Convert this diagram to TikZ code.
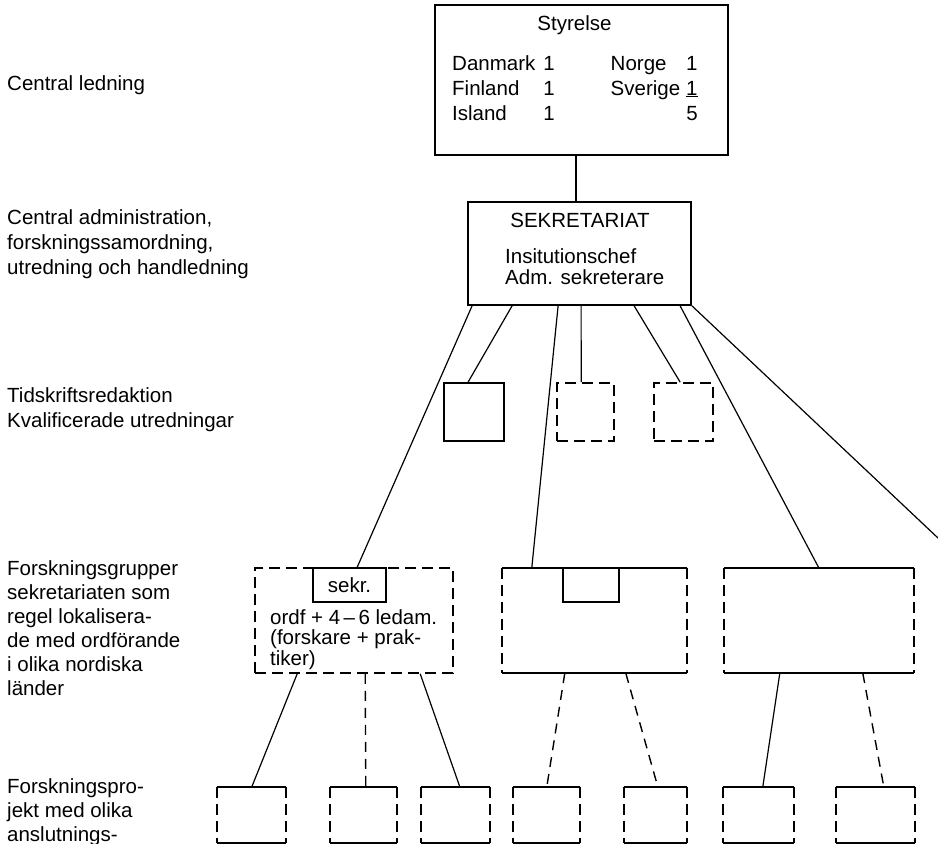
\documentclass[tikz,border=0pt]{standalone}
\usepackage{fontspec}
\setmainfont{Liberation Sans}
\usetikzlibrary{positioning}

\begin{document}
\begin{tikzpicture}[
    x=1pt, y=-1pt,
    every node/.style={font=\fontsize{20.5}{25}\selectfont, inner sep=0pt},
    orgbox/.style={rectangle, draw, line width=1.8pt},
    sideline/.style={line width=1.6pt, dash pattern=on 11pt off 6pt},
    dashbox/.style={rectangle, draw, sideline},
    openbox/.style={rectangle},
    link/.style={line width=1.2pt},
    dashlink/.style={line width=1.4pt, dash pattern=on 10pt off 7pt},
    sidelabel/.style={anchor=north west, align=left}
]
\useasboundingbox (0,0) rectangle (938,844);

% levels on the left
\node[sidelabel] (lvlboard) at (7,75) {Central ledning};
\node[sidelabel] (lvladmin) at (7,209) {Central administration,\\forskningssamordning,\\utredning och handledning};
\node[sidelabel] (lvljournal) at (7,387) {Tidskriftsredaktion\\Kvalificerade utredningar};
\node[sidelabel, font=\fontsize{20.5}{24}\selectfont] (lvlgroups) at (7,560) {Forskningsgrupper\\sekretariaten som\\regel lokalisera-\\de med ordf\"orande\\i olika nordiska\\l\"ander};
\node[sidelabel, font=\fontsize{20.5}{24}\selectfont] (lvlprojects) at (7,778) {Forskningspro-\\jekt med olika\\anslutnings-};

% board
\node[orgbox, minimum width=293pt, minimum height=150pt, line width=2pt] (styrelse) at (581.5,80) {};
\node[anchor=base] (styrtitle) at (574.5,30) {Styrelse};
\node[anchor=base west] (members) at (452,70) {\begin{tabular}[t]{@{}l@{\hspace{8pt}}r@{\hspace{56pt}}l@{\hspace{6pt}}r@{}}
Danmark & 1 & Norge & 1\\
Finland & 1 & Sverige & \underline{1}\\
Island & 1 & & 5
\end{tabular}};

% secretariat
\node[orgbox, minimum width=223pt, minimum height=103pt, below=45pt of styrelse, xshift=-2pt] (sek) {};
\node[anchor=base] (sektitle) at (580,227) {SEKRETARIAT};
\node[anchor=base west, font=\fontsize{20.5}{21.5}\selectfont] (sekstaff) at (505,263) {\begin{tabular}[t]{@{}l@{}}Insitutionschef\\Adm. sekreterare\end{tabular}};

% journal and temporary units
\node[orgbox, minimum width=60pt, minimum height=58pt] (tidskr) at (474,412) {};
\node[dashbox, minimum width=57pt, minimum height=58pt] (tempA) at (585.5,412) {};
\node[dashbox, minimum width=59pt, minimum height=58pt] (tempB) at (683.5,412) {};

% research groups
\node[dashbox, minimum width=198pt, minimum height=105pt] (grpA) at (354,620.5) {};
\node[orgbox, minimum width=73pt, minimum height=34pt] (grpAsekr) at (349.5,585) {sekr.};
\node[anchor=base west, font=\fontsize{20.5}{20}\selectfont] (grpAtext) at (270,624) {\begin{tabular}[t]{@{}l@{}}ordf + 4\,--\,6 ledam.\\(forskare + prak-\\tiker)\end{tabular}};
\node[openbox, minimum width=185pt, minimum height=105pt] (grpB) at (594.5,620.5) {};
\node[orgbox, minimum width=56pt, minimum height=34pt] (grpBsekr) at (591,585) {};
\node[openbox, minimum width=190pt, minimum height=105pt] (grpC) at (819,620.5) {};

% research projects
\foreach \name/\cx/\w in {p1/251.5/69, p2/363.5/67, p3/455.5/69, p4/546.5/67, p5/655.5/63, p6/758.5/71, p7/875.5/79}
    \node[openbox, minimum width=\w, minimum height=56] (\name) at (\cx,815) {};

% solid top and bottom, dashed sides
\foreach \b in {grpB,grpC,p1,p2,p3,p4,p5,p6,p7} {
    \draw[line width=1.8pt] (\b.north west) -- (\b.north east) (\b.south west) -- (\b.south east);
    \draw[sideline] (\b.north west) -- (\b.south west) (\b.north east) -- (\b.south east);
}

% links
\draw[link] ([xshift=-5.5pt]styrelse.south) -- ([xshift=-3.5pt]sek.north);
\draw[link] ([xshift=5pt]sek.south west) -- ([xshift=103pt]grpA.north west);
\draw[link] ([xshift=45pt]sek.south west) -- ([xshift=25pt]tidskr.north west);
\draw[link] ([xshift=91pt]sek.south west) -- ([xshift=30pt]grpB.north west);
\draw[link] ([xshift=114pt]sek.south west) -- ([xshift=25pt]tempA.north west);
\draw[link] ([xshift=167pt]sek.south west) -- ([xshift=27pt]tempB.north west);
\draw[link] ([xshift=213pt]sek.south west) -- ([xshift=95pt]grpC.north west);
\coordinate (offpage) at (938,538);
\draw[link] (sek.south east) -- (offpage);

\draw[link] ([xshift=43pt]grpA.south west) -- ([xshift=35pt]p1.north west);
\draw[dashlink] ([xshift=111pt]grpA.south west) -- ([xshift=36pt]p2.north west);
\draw[link] ([xshift=166pt]grpA.south west) -- ([xshift=39pt]p3.north west);
\draw[dashlink] ([xshift=63pt]grpB.south west) -- ([xshift=34pt]p4.north west);
\draw[dashlink] ([xshift=124pt]grpB.south west) -- ([xshift=34pt]p5.north west);
\draw[link] ([xshift=56pt]grpC.south west) -- ([xshift=40pt]p6.north west);
\draw[dashlink] ([xshift=139pt]grpC.south west) -- ([xshift=48pt]p7.north west);

\end{tikzpicture}
\end{document}
